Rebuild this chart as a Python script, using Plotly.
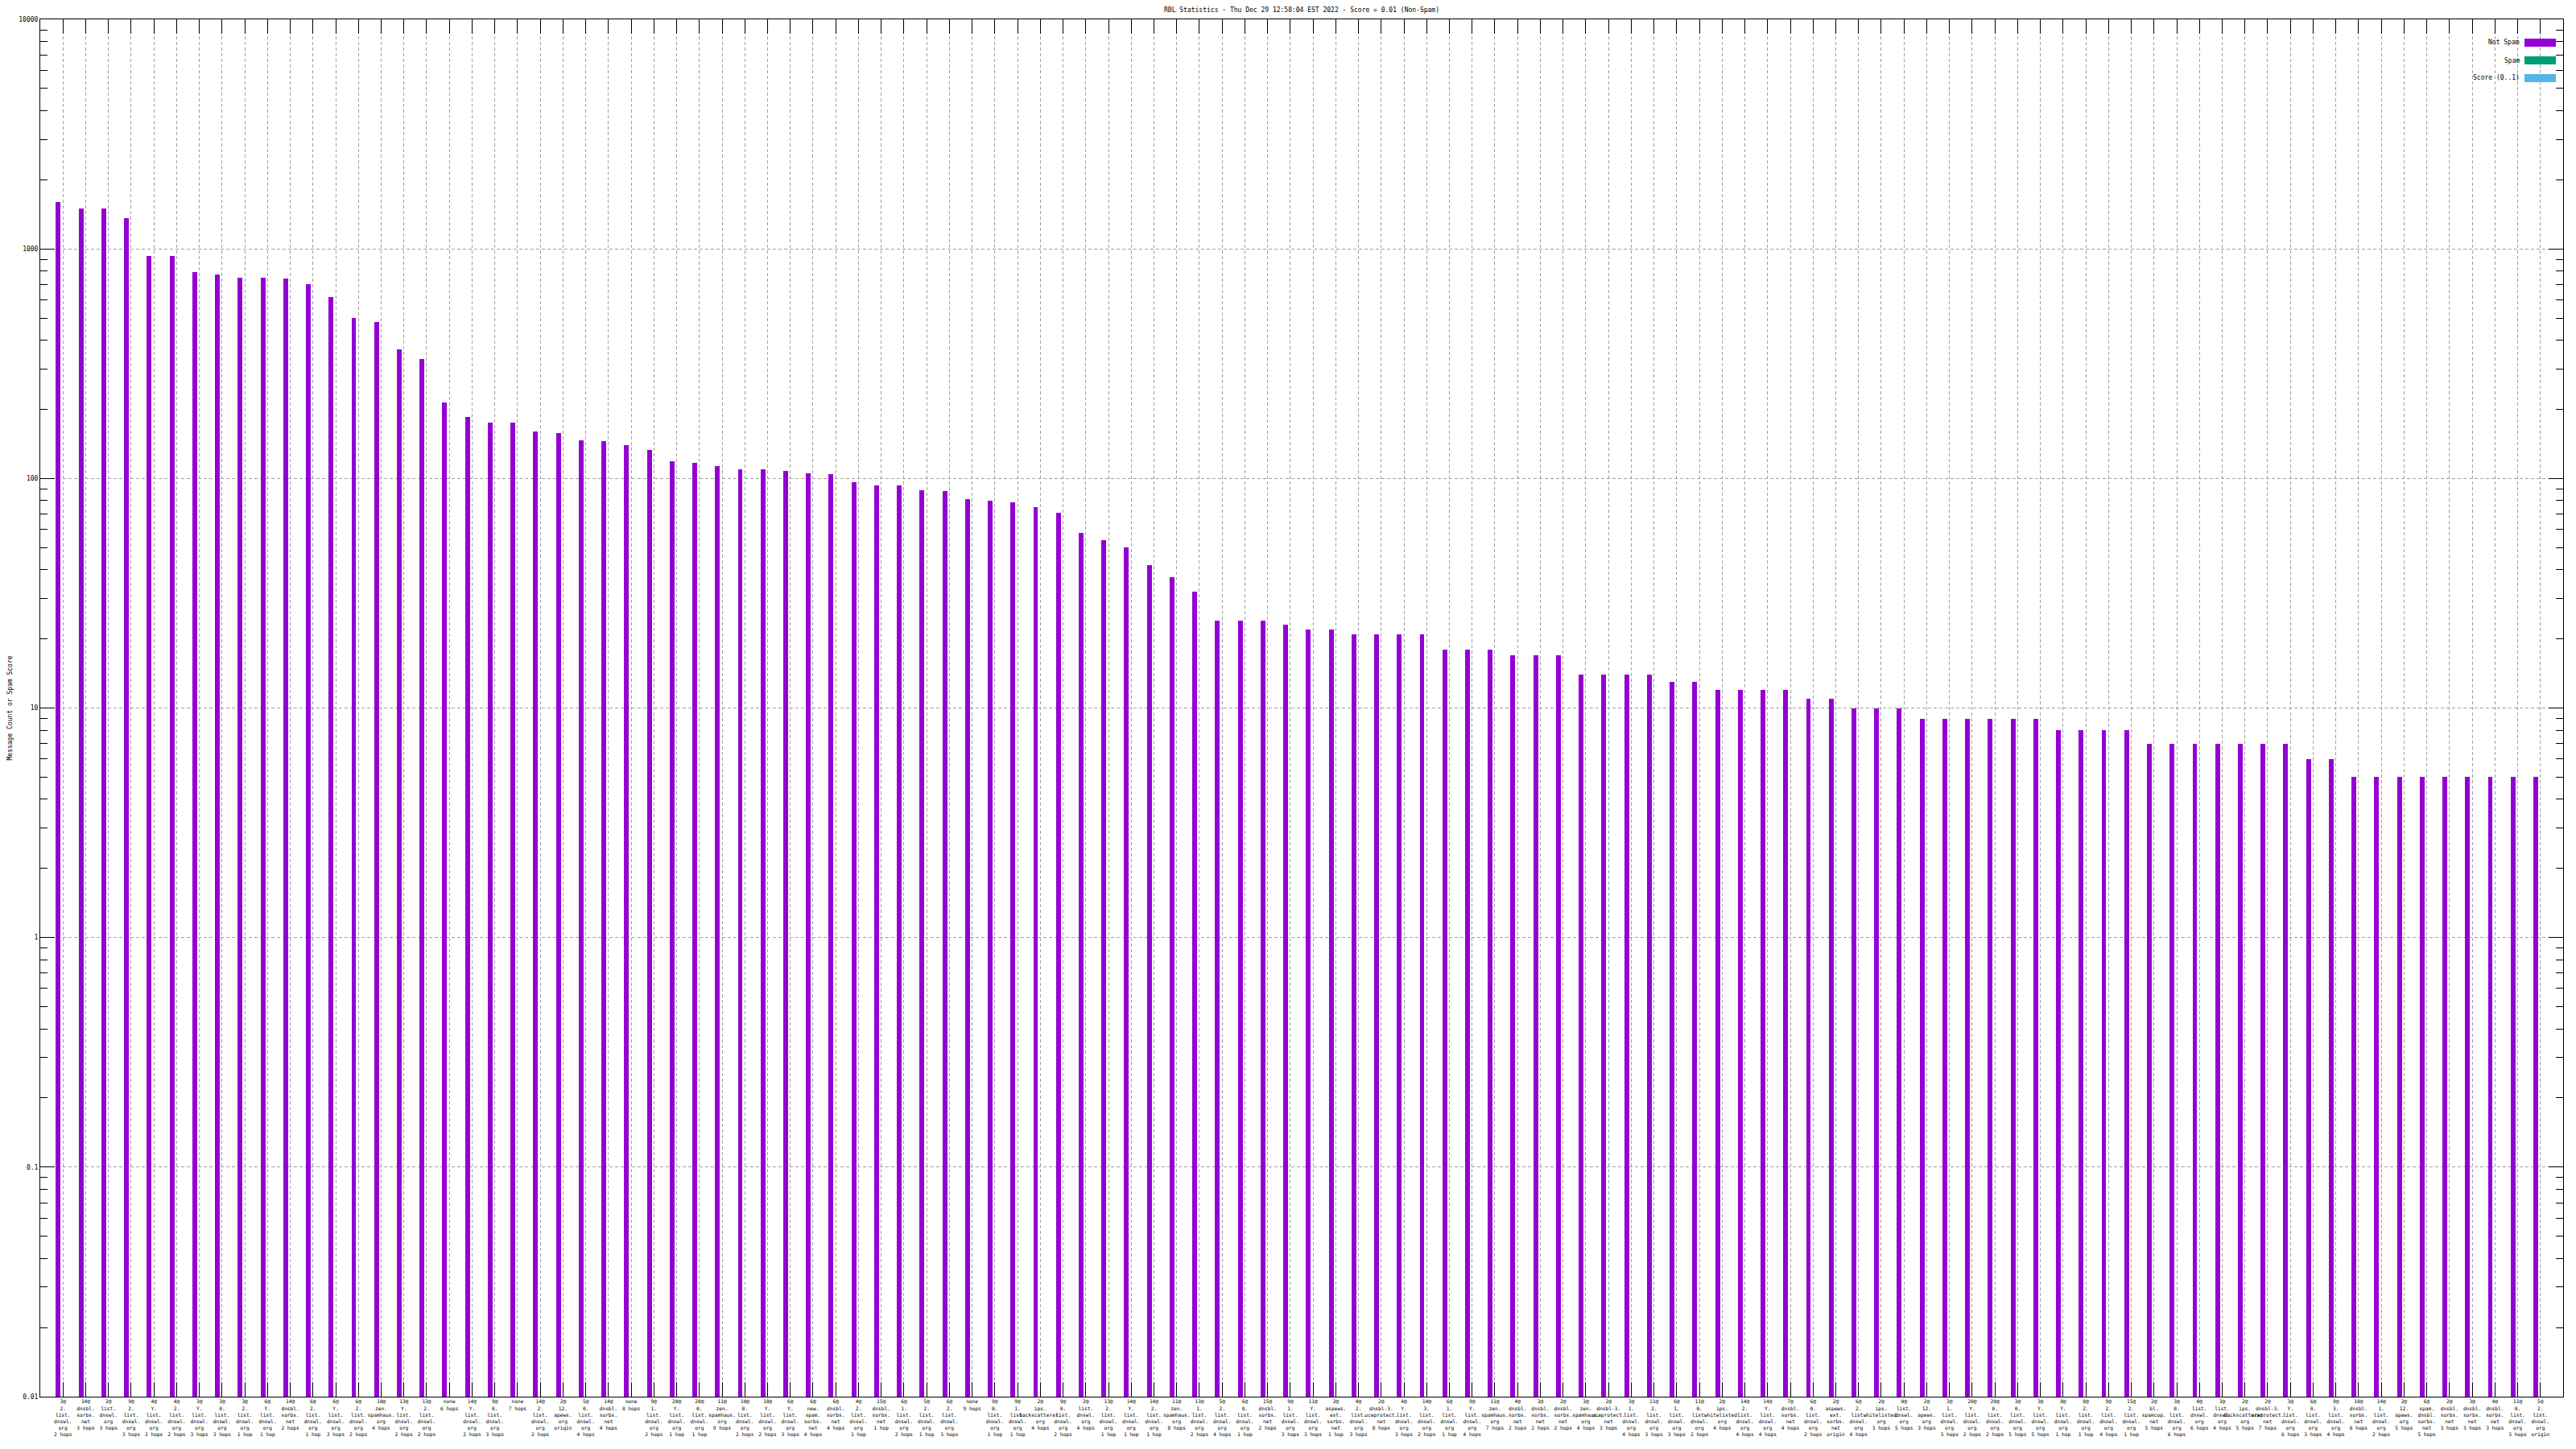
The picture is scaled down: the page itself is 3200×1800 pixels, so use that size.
import plotly.graph_objects as go

# ---------------- data ----------------
labels = [
    "3@2.list.dnswl.org 2 hops", "14@dnsbl.sorbs.net 3 hops", "2@list.dnswl.org 3 hops",
    "9@2.list.dnswl.org 3 hops", "4@Y.list.dnswl.org 2 hops", "4@2.list.dnswl.org 2 hops",
    "3@Y.list.dnswl.org 3 hops", "3@0.list.dnswl.org 3 hops", "3@2.list.dnswl.org 1 hop",
    "6@Y.list.dnswl.org 1 hop", "14@dnsbl.sorbs.net 2 hops", "6@2.list.dnswl.org 1 hop",
    "6@Y.list.dnswl.org 2 hops", "6@2.list.dnswl.org 2 hops", "10@zen.spamhaus.org 4 hops",
    "13@Y.list.dnswl.org 2 hops", "13@2.list.dnswl.org 2 hops", "none 6 hops",
    "14@Y.list.dnswl.org 2 hops", "9@0.list.dnswl.org 3 hops", "none 7 hops",
    "14@2.list.dnswl.org 2 hops", "2@12.apews.org origin", "5@0.list.dnswl.org 4 hops",
    "14@dnsbl.sorbs.net 4 hops", "none 8 hops", "9@1.list.dnswl.org 2 hops",
    "20@Y.list.dnswl.org 1 hop", "20@0.list.dnswl.org 1 hop", "11@zen.spamhaus.org 9 hops",
    "10@0.list.dnswl.org 2 hops", "10@Y.list.dnswl.org 2 hops", "6@Y.list.dnswl.org 3 hops",
    "6@new.spam.sorbs.net 4 hops", "6@dnsbl.sorbs.net 4 hops", "4@2.list.dnswl.org 1 hop",
    "15@dnsbl.sorbs.net 1 hop", "6@1.list.dnswl.org 2 hops", "5@2.list.dnswl.org 1 hop",
    "6@2.list.dnswl.org 3 hops", "none 9 hops", "9@0.list.dnswl.org 1 hop",
    "9@1.list.dnswl.org 1 hop", "2@ips.backscatterer.org 4 hops", "9@0.list.dnswl.org 2 hops",
    "2@list.dnswl.org 4 hops", "13@2.list.dnswl.org 1 hop", "14@Y.list.dnswl.org 1 hop",
    "14@2.list.dnswl.org 1 hop", "11@zen.spamhaus.org 8 hops", "13@1.list.dnswl.org 2 hops",
    "5@2.list.dnswl.org 4 hops", "6@0.list.dnswl.org 1 hop", "15@dnsbl.sorbs.net 2 hops",
    "9@1.list.dnswl.org 3 hops", "11@Y.list.dnswl.org 3 hops", "2@aspews.ext.sorbs.net 1 hop",
    "4@2.list.dnswl.org 3 hops", "2@dnsbl-3.uceprotect.net 8 hops", "4@Y.list.dnswl.org 3 hops",
    "14@3.list.dnswl.org 2 hops", "6@1.list.dnswl.org 1 hop", "9@Y.list.dnswl.org 4 hops",
    "11@zen.spamhaus.org 7 hops", "4@dnsbl.sorbs.net 2 hops", "3@dnsbl.sorbs.net 2 hops",
    "2@dnsbl.sorbs.net 2 hops", "3@zen.spamhaus.org 4 hops", "2@dnsbl-3.uceprotect.net 3 hops",
    "3@1.list.dnswl.org 4 hops", "11@2.list.dnswl.org 3 hops", "6@1.list.dnswl.org 3 hops",
    "11@0.list.dnswl.org 2 hops", "2@ips.whitelisted.org 4 hops", "14@2.list.dnswl.org 4 hops",
    "14@Y.list.dnswl.org 4 hops", "7@dnsbl.sorbs.net 4 hops", "6@0.list.dnswl.org 2 hops",
    "2@aspews.ext.sorbs.net origin", "6@2.list.dnswl.org 4 hops", "2@ips.whitelisted.org 3 hops",
    "0@list.dnswl.org 5 hops", "2@12.apews.org 3 hops", "3@1.list.dnswl.org 3 hops",
    "20@Y.list.dnswl.org 2 hops", "20@0.list.dnswl.org 2 hops", "3@0.list.dnswl.org 5 hops",
    "3@Y.list.dnswl.org 5 hops", "8@Y.list.dnswl.org 1 hop", "8@2.list.dnswl.org 1 hop",
    "9@2.list.dnswl.org 4 hops", "15@2.list.dnswl.org 1 hop", "2@bl.spamcop.net 5 hops",
    "3@0.list.dnswl.org 6 hops", "0@list.dnswl.org 6 hops", "3@list.dnswl.org 4 hops",
    "2@ips.backscatterer.org 5 hops", "2@dnsbl-3.uceprotect.net 7 hops", "3@Y.list.dnswl.org 6 hops",
    "6@0.list.dnswl.org 3 hops", "9@3.list.dnswl.org 4 hops", "10@dnsbl.sorbs.net 6 hops",
    "14@1.list.dnswl.org 2 hops", "2@12.apews.org 5 hops", "6@spam.dnsbl.sorbs.net 5 hops",
    "2@dnsbl.sorbs.net 3 hops", "3@dnsbl.sorbs.net 3 hops", "4@dnsbl.sorbs.net 3 hops",
    "11@0.list.dnswl.org 3 hops", "5@2.list.dnswl.org origin",
]

not_spam = [
    1600, 1500, 1500, 1360, 930, 930, 790, 775, 750, 750,
    740, 700, 615, 500, 480, 365, 330, 215, 185, 175,
    175, 160, 157, 147, 145, 140, 133, 119, 117, 113,
    110, 110, 108, 105, 104, 96, 93, 93, 89, 88,
    81, 80, 79, 75, 71, 58, 54, 50, 42, 37,
    32, 24, 24, 24, 23, 22, 22, 21, 21, 21,
    21, 18, 18, 18, 17, 17, 17, 14, 14, 14,
    14, 13, 13, 12, 12, 12, 12, 11, 11, 10,
    10, 10, 9, 9, 9, 9, 9, 9, 8, 8,
    8, 8, 7, 7, 7, 7, 7, 7, 7, 6,
    6, 5, 5, 5, 5, 5, 5, 5, 5, 5,
]

series_names = ["Not Spam", "Spam", "Score (0..1)"]
series_colors = ["#9400d3", "#009e73", "#56b4e9"]

y_tickvals = [0.01, 0.1, 1, 10, 100, 1000, 10000]
y_ticktext = ["0.01", "0.1", "1", "10", "100", "1000", "10000"]

title_text = "RBL Statistics - Thu Dec 29 12:58:04 EST 2022 - Score = 0.01 (Non-Spam)"
ytitle = "Message Count or Spam Score"


def fmt(s):
    if s.startswith("none"):
        return "none<br>" + s[5:]
    head, rest = s.split("@", 1)
    dom, hops = rest.split(" ", 1)
    parts = dom.split(".")
    lines = [head + "@"] + [p + "." for p in parts[:-1]] + [parts[-1], hops]
    return "<br>".join(lines)


xs = list(range(len(labels)))
ticktext = [fmt(s) for s in labels]

# ---------------- figure ----------------
# the page body adds an 8px offset; positions below are in figure pixels
W, H = 3200, 1800
ML, MR, MT, MB = 42, 24, 16, 73
FONT = "DejaVu Sans Mono"

fig = go.Figure()
fig.add_trace(go.Bar(
    x=xs, y=not_spam, name=series_names[0],
    marker=dict(color=series_colors[0], line=dict(width=0)),
    width=0.21, offset=-0.31, showlegend=False,
))

pw = W - ML - MR
ph = H - MT - MB


def px_to_paper(px, py):
    return (px - ML) / pw, (H - MB - py) / ph


fig.update_layout(
    width=W, height=H,
    margin=dict(l=ML, r=MR, t=MT, b=MB, autoexpand=False),
    paper_bgcolor="white", plot_bgcolor="white",
    font=dict(family=FONT, size=8, color="black"),
    title=dict(text=title_text, x=0.5, xref="paper", y=1 - 4 / H, yanchor="middle",
               font=dict(family=FONT, size=8, color="black")),
    bargap=0,
)

fig.update_xaxes(
    range=[-1, len(labels)],
    tickmode="array", tickvals=xs, ticktext=ticktext, tickangle=0,
    tickfont=dict(family=FONT, size=6.2, color="black"),
    ticks="inside", ticklen=18, tickwidth=1, tickcolor="black",
    showline=True, linecolor="black", linewidth=1, mirror="allticks",
    showgrid=True, gridcolor="#a0a0a0", gridwidth=1, griddash="4px,3px",
    zeroline=False,
)

fig.update_yaxes(
    type="log", range=[-2, 4],
    tickmode="array", tickvals=y_tickvals, ticktext=y_ticktext,
    tickfont=dict(family=FONT, size=8, color="black"),
    ticks="inside", ticklen=18, tickwidth=1, tickcolor="black",
    minor=dict(ticks="inside", ticklen=9, tickcolor="black", showgrid=False, dtick="D1"),
    showline=True, linecolor="black", linewidth=1, mirror="allticks",
    showgrid=True, gridcolor="#a0a0a0", gridwidth=1, griddash="4px,3px",
    zeroline=False,
)

# y-axis title
tx, ty = px_to_paper(4, (16 + H - MB) / 2)
fig.add_annotation(xref="paper", yref="paper", x=tx, y=0.5, text=ytitle, showarrow=False,
                   textangle=-90, xanchor="center", yanchor="middle",
                   font=dict(family=FONT, size=8, color="black"))

# ---- legend (drawn manually, gnuplot style: text then swatch) ----
legend_rows_y = [45, 67, 89]
for name, col, ry in zip(series_names, series_colors, legend_rows_y):
    x0, y0 = px_to_paper(3128, ry - 5)
    x1, y1 = px_to_paper(3167, ry + 5)
    fig.add_shape(type="rect", xref="paper", yref="paper", x0=x0, x1=x1, y0=y1, y1=y0,
                  fillcolor=col, line=dict(width=0))
    lx, ly = px_to_paper(3124, ry)
    fig.add_annotation(xref="paper", yref="paper", x=lx, y=ly, text=name, showarrow=False,
                       xanchor="right", yanchor="middle",
                       font=dict(family=FONT, size=8, color="black"))

fig.write_html("out.html")
